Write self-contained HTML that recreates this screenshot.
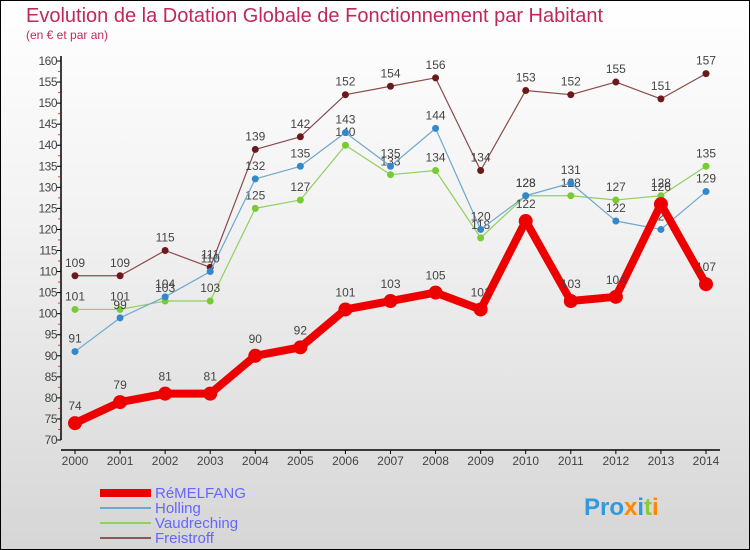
<!DOCTYPE html>
<html><head><meta charset="utf-8"><style>
html,body{margin:0;padding:0}
body{width:750px;height:550px;overflow:hidden;font-family:"Liberation Sans",sans-serif}
#wrap{position:absolute;left:0;top:0;width:748px;height:548px;border:1px solid #000;background:linear-gradient(#ffffff 0%,#f2f2f2 40%,#d6d6d6 100%)}
</style></head><body>
<div id="wrap">
<svg id="chart" width="750" height="550" style="position:absolute;left:-1px;top:-1px">
<text x="26" y="22" font-size="20" fill="#c0285a">Evolution de la Dotation Globale de Fonctionnement par Habitant</text>
<text x="26" y="39" font-size="12" fill="#c0285a">(en € et par an)</text>
<g id="axes"></g><g id="series"></g>
<g>
<line x1="100" y1="493" x2="151" y2="493" stroke="#ee0000" stroke-width="8"/>
<text x="155" y="498" font-size="15" fill="#6666ff">RéMELFANG</text>
<line x1="100" y1="508" x2="151" y2="508" stroke="#6fa8cc" stroke-width="2"/>
<text x="155" y="513" font-size="15" fill="#6666ff">Holling</text>
<line x1="100" y1="523" x2="151" y2="523" stroke="#90d060" stroke-width="2"/>
<text x="155" y="528" font-size="15" fill="#6666ff">Vaudreching</text>
<line x1="100" y1="538" x2="151" y2="538" stroke="#8a5a5a" stroke-width="2"/>
<text x="155" y="543" font-size="15" fill="#6666ff">Freistroff</text>
</g>
<text x="584" y="515" font-size="24" font-weight="bold"><tspan fill="#3399dd">Pro</tspan><tspan fill="#ff8800">x</tspan><tspan fill="#3399dd">i</tspan><tspan fill="#88cc33">t</tspan><tspan fill="#ff8800">i</tspan></text>
</svg>
</div>
<script>
const years=[2000,2001,2002,2003,2004,2005,2006,2007,2008,2009,2010,2011,2012,2013,2014];
const remelfang=[74,79,81,81,90,92,101,103,105,101,122,103,104,126,107];
const holling=[91,99,104,110,132,135,143,135,144,120,128,131,122,120,129];
const vaudreching=[101,101,103,103,125,127,140,133,134,118,128,128,127,128,135];
const freistroff=[109,109,115,111,139,142,152,154,156,134,153,152,155,151,157];
const yTicks=[70,75,80,85,90,95,100,105,110,115,120,125,130,135,140,145,150,155,160];

const NS="http://www.w3.org/2000/svg";
const X=i=>75+i*(706-75)/(years.length-1);
const Y=v=>440-(v-70)*(440-61)/90;
function mk(tag,attrs,parent,text){const e=document.createElementNS(NS,tag);for(const k in attrs)e.setAttribute(k,attrs[k]);if(text!==undefined)e.textContent=text;parent.appendChild(e);return e;}
const axes=document.getElementById('axes'),ser=document.getElementById('series');
let a=mk('line',{x1:61,y1:56,x2:61,y2:440,stroke:'#000','stroke-width':1.5},axes);


a=mk('line',{x1:61,y1:450,x2:720,y2:450,stroke:'#000','stroke-width':1.5},axes);


yTicks.forEach((v,i)=>{
  mk('line',{x1:57,y1:Y(v),x2:61,y2:Y(v),stroke:'#000','stroke-width':1},axes);
  if(i<yTicks.length-1){const m=(v+yTicks[i+1])/2;mk('line',{x1:58,y1:Y(m),x2:60,y2:Y(m),stroke:'#ff3333','stroke-width':1},axes);}
  const t=mk('text',{x:57,y:Y(v)+4,'font-size':12,fill:'#444','text-anchor':'end','letter-spacing':'-0.5'},axes,String(v));
  
  
});
years.forEach((y,i)=>{
  mk('line',{x1:X(i),y1:450,x2:X(i),y2:454,stroke:'#000'},axes);
  const t=mk('text',{x:X(i),y:465,'font-size':12,fill:'#444','text-anchor':'middle'},axes,String(y));
  
  
});
function draw(data,name,color,dot,w,r){
  const g=mk('g',{},ser);
  
  
  mk('polyline',{points:data.map((v,i)=>X(i)+','+Y(v)).join(' '),fill:'none',stroke:color,'stroke-width':w,'stroke-linejoin':'round'},g);
  data.forEach((v,i)=>{
    const c=mk('circle',{cx:X(i),cy:Y(v),r:r,fill:dot},g);
    
    
    mk('text',{x:X(i),y:Y(v)-9-(r>4?4:0),'font-size':12,fill:'#444','text-anchor':'middle'},g,String(v));
  });
}
draw(freistroff,'freistroff','#8a4a4a','#6a1a1a',1.2,3.5);
draw(vaudreching,'vaudreching','#90d060','#77cc33',1.2,3.5);
draw(holling,'holling','#6fa8cc','#3388cc',1.2,3.5);
draw(remelfang,'remelfang','#ee0000','#ee0000',8,7);
</script>
</body></html>
